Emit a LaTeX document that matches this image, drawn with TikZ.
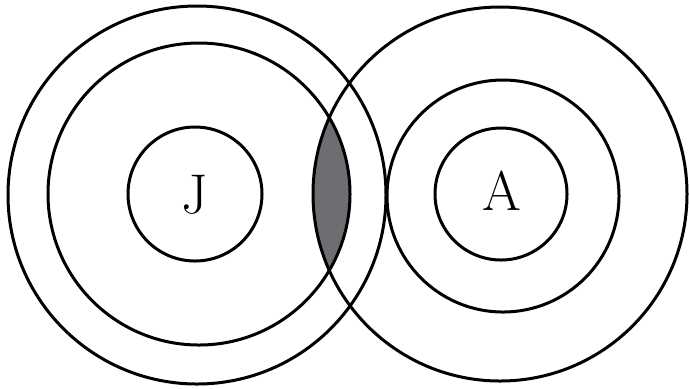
\documentclass[tikz,border=0pt]{standalone}
\definecolor{lensgray}{RGB}{110,110,114}
\begin{document}
\begin{tikzpicture}[x=0.5pt,y=-0.5pt,
  ring/.style={line width=1.5pt, draw=black},
  lbl/.style={font=\fontsize{28}{32}\selectfont, inner sep=0pt}]
\useasboundingbox (0,0) rectangle (689,388);
% shaded lens
\begin{scope}
  \clip (199,194) circle[radius=151];
  \fill[lensgray] (500,194) circle[radius=187];
\end{scope}
% left group
\draw[ring] (197,195) circle[radius=189];
\draw[ring] (199,194) circle[radius=151];
\draw[ring] (195,194) circle[radius=67];
% right group
\draw[ring] (500,194) circle[radius=187];
\draw[ring] (503,196) circle[radius=116];
\draw[ring] (501,194) circle[radius=66];
% labels
\node[lbl] (J) at (195,195) {J};
\node[lbl] (A) at (502,191) {A};
\end{tikzpicture}
\end{document}
